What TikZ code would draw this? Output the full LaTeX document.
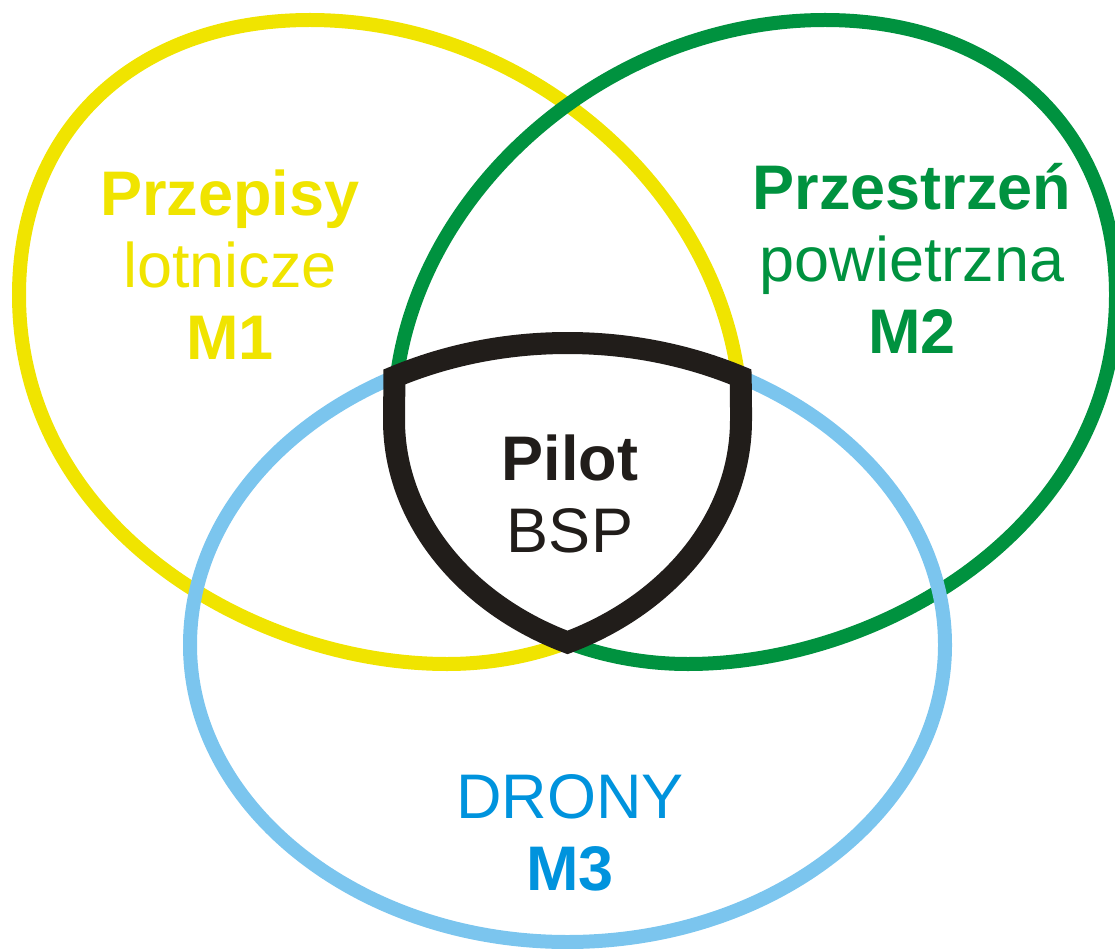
\documentclass[tikz,border=0pt]{standalone}
\usepackage{fontspec}
\setmainfont{Liberation Sans}
\usepackage{tikz}
\definecolor{lawyellow}{HTML}{F0E400}
\definecolor{airgreen}{HTML}{00923F}
\definecolor{droneline}{HTML}{7BC5EE}
\definecolor{dronetext}{HTML}{0093DD}
\definecolor{pilotblack}{HTML}{211D1A}
% M1 ring; the M2 ring is the same path mirrored about x=567.5
\newcommand\lawring{(310,20) .. controls (538,20) and (741,208) .. (741,420)
  .. controls (741,554) and (609,664) .. (447,664)
  .. controls (254.4,664) and (19,528) .. (19,295)
  .. controls (19,130) and (135,20) .. cycle}

\begin{document}
\begin{tikzpicture}[
  x=1pt, y=-1pt,
  ring/.style={line width=14pt},
  shield/.style={draw=pilotblack, fill=white, line width=22pt, line join=miter},
  lab/.style={align=center, inner sep=0pt, anchor=base, font=\fontsize{63}{72}\selectfont}]
  \useasboundingbox (0,0) rectangle (1115,949);
  \clip (0,0) rectangle (1115,949);
  % rings
  \draw[ring, lawyellow] \lawring;
  \draw[ring, airgreen, shift={(1135,0)}, xscale=-1] \lawring;
  \draw[ring, droneline] (567.5,343) .. controls (775,343) and (945,479) .. (945,645)
    .. controls (945,808) and (775,942) .. (567.5,942)
    .. controls (360,942) and (190,808) .. (190,645)
    .. controls (190,479) and (360,343) .. cycle;
  % common part of the three rings
  \draw[shield] (394.4,376.9) .. controls (446.35,355.24) and (505.25,343) .. (567.5,343)
    .. controls (629.75,343) and (688.65,355.24) .. (740.6,376.9)
    .. controls (741,395) and (741,405) .. (741,420)
    .. controls (741,518.5) and (669.7,604) .. (567.5,642.4)
    .. controls (465.3,604) and (394,518.5) .. (394,420)
    .. controls (394,405) and (394.4,395) .. cycle;
  % labels (base = last line)
  \node[lab, text=lawyellow] (prawo) at (230,359) {\textbf{Przepisy}\\lotnicze\\\textbf{M1}};
  \node[lab, text=airgreen] (przestrzen) at (912,353) {\textbf{Przestrzeń}\\powietrzna\\\textbf{M2}};
  \node[lab, text=pilotblack] (pilot) at (570,552) {\textbf{Pilot}\\BSP};
  \node[lab, text=dronetext] (drony) at (570,890) {DRONY\\\textbf{M3}};
\end{tikzpicture}
\end{document}
